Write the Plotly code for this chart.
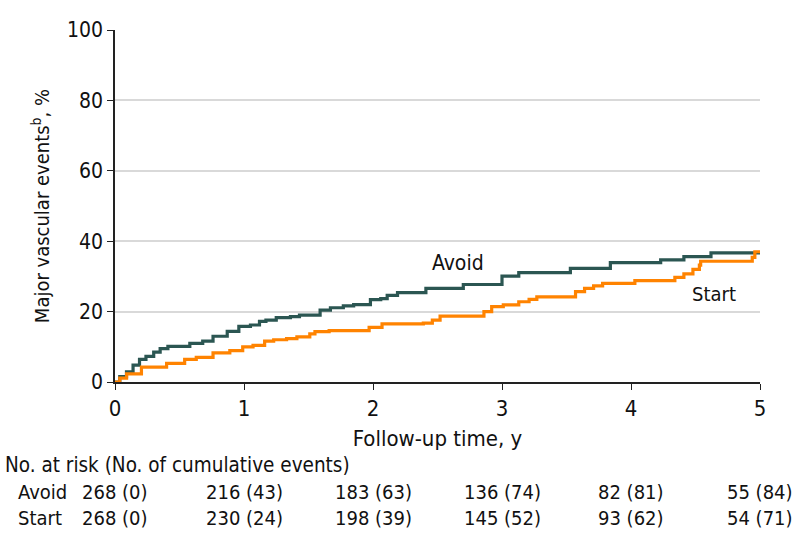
import plotly.graph_objects as go

# Cumulative incidence of major vascular events (%)
avoid_t = [0, 0.037, 0.089, 0.14, 0.19, 0.24, 0.30, 0.35, 0.41, 0.58, 0.68, 0.76, 0.87, 0.96, 1.05,
           1.12, 1.17, 1.25, 1.36, 1.43, 1.59, 1.67, 1.77, 1.85, 1.98, 2.06, 2.11, 2.19, 2.41, 2.70,
           3.00, 3.13, 3.53, 3.84, 4.23, 4.41, 4.62, 5.0]
avoid_y = [0, 1.5, 2.9, 4.8, 6.4, 7.3, 8.5, 9.5, 10.1, 11.0, 11.6, 13.0, 14.4, 15.8, 16.2,
           17.2, 17.6, 18.3, 18.6, 19.0, 20.4, 21.1, 21.6, 22.0, 23.4, 23.7, 24.6, 25.4, 26.6, 27.7,
           30.1, 31.1, 32.3, 33.9, 34.7, 35.6, 36.7, 36.9]

start_t = [0, 0.037, 0.09, 0.205, 0.40, 0.54, 0.63, 0.76, 0.89, 0.99, 1.07, 1.16, 1.23, 1.33,
           1.41, 1.51, 1.55, 1.66, 1.97, 2.07, 2.39, 2.46, 2.52, 2.86, 2.92, 3.01, 3.13, 3.21,
           3.27, 3.57, 3.64, 3.71, 3.78, 4.03, 4.34, 4.41, 4.48, 4.53, 4.54, 4.94, 4.96, 5.0]
start_y = [0, 1.1, 2.3, 4.2, 5.3, 6.4, 7.0, 8.3, 8.9, 10.0, 10.4, 11.6, 12.0, 12.3,
           12.8, 13.7, 14.3, 14.6, 15.5, 16.5, 16.7, 17.6, 18.7, 20.0, 21.4, 21.9, 22.8, 23.5,
           24.2, 25.7, 26.6, 27.3, 28.0, 28.8, 29.7, 30.7, 32.0, 33.2, 34.3, 35.4, 37.0, 37.3]

risk_times = [0, 1, 2, 3, 4, 5]
avoid_risk = ["268 (0)", "216 (43)", "183 (63)", "136 (74)", "82 (81)", "55 (84)"]
start_risk = ["268 (0)", "230 (24)", "198 (39)", "145 (52)", "93 (62)", "54 (71)"]

AVOID_C = "#2b5652"
START_C = "#ff8300"
FONT = "DejaVu Sans Condensed"
FS = 20
TXT = "#111111"

fig = go.Figure()
fig.add_trace(go.Scatter(x=avoid_t, y=avoid_y, mode="lines", line=dict(color=AVOID_C, width=3.2, shape="hv"),
                         name="Avoid", showlegend=False, cliponaxis=False))
fig.add_trace(go.Scatter(x=start_t, y=start_y, mode="lines", line=dict(color=START_C, width=3.2, shape="hv"),
                         name="Start", showlegend=False, cliponaxis=False))

fig.add_annotation(x=2.66, y=33.8, text="Avoid", showarrow=False, yanchor="middle",
                   font=dict(size=21, color=TXT))
fig.add_annotation(x=4.64, y=25, text="Start", showarrow=False, yanchor="middle",
                   font=dict(size=20, color=TXT))

def ypix(py):
    # pixel row (from top) -> paper coords; plot area spans rows 30..382
    return (382 - py) / 352.0

fig.add_annotation(x=0, xref="paper", xanchor="left", y=ypix(465), yref="paper", yanchor="middle",
                   text="No. at risk (No. of cumulative events)", showarrow=False,
                   font=dict(size=20.5, color=TXT), xshift=-112)
for label, row, py in [("Avoid", avoid_risk, 492), ("Start", start_risk, 518)]:
    fig.add_annotation(x=0, xref="paper", xanchor="left", y=ypix(py), yref="paper", yanchor="middle",
                       text=label, showarrow=False, font=dict(size=FS, color=TXT), xshift=-99)
    for t, s in zip(risk_times, row):
        fig.add_annotation(x=t, xref="x", xanchor="center", y=ypix(py), yref="paper", yanchor="middle",
                           text=s, showarrow=False, font=dict(size=FS, color=TXT))

fig.update_layout(
    width=798, height=547,
    margin=dict(l=115, r=38, t=30, b=165, autoexpand=False),
    plot_bgcolor="white", paper_bgcolor="white",
    font=dict(family=FONT, size=FS, color=TXT),
    xaxis=dict(range=[0, 5], tickvals=[0, 1, 2, 3, 4, 5], showgrid=False, zeroline=False,
               showline=True, linecolor="#222", linewidth=1.5, ticks="outside", ticklen=6,
               tickcolor="#222", automargin=False, tickfont=dict(size=22),
               title=dict(text="Follow-up time, y", standoff=10, font=dict(size=22))),
    yaxis=dict(range=[0, 100], tickvals=[0, 20, 40, 60, 80, 100], showgrid=True, gridcolor="#d9d9d9",
               gridwidth=1.5, zeroline=False, showline=True, linecolor="#222", linewidth=1.5,
               ticks="outside", ticklen=6, tickcolor="#222", automargin=False, tickfont=dict(size=21),
               title=dict(text="Major vascular events<sup>b</sup>, %", standoff=12, font=dict(size=20))),
)

fig.write_html("out.html", post_script="document.body.style.margin='0';",
               config={"displayModeBar": False})
